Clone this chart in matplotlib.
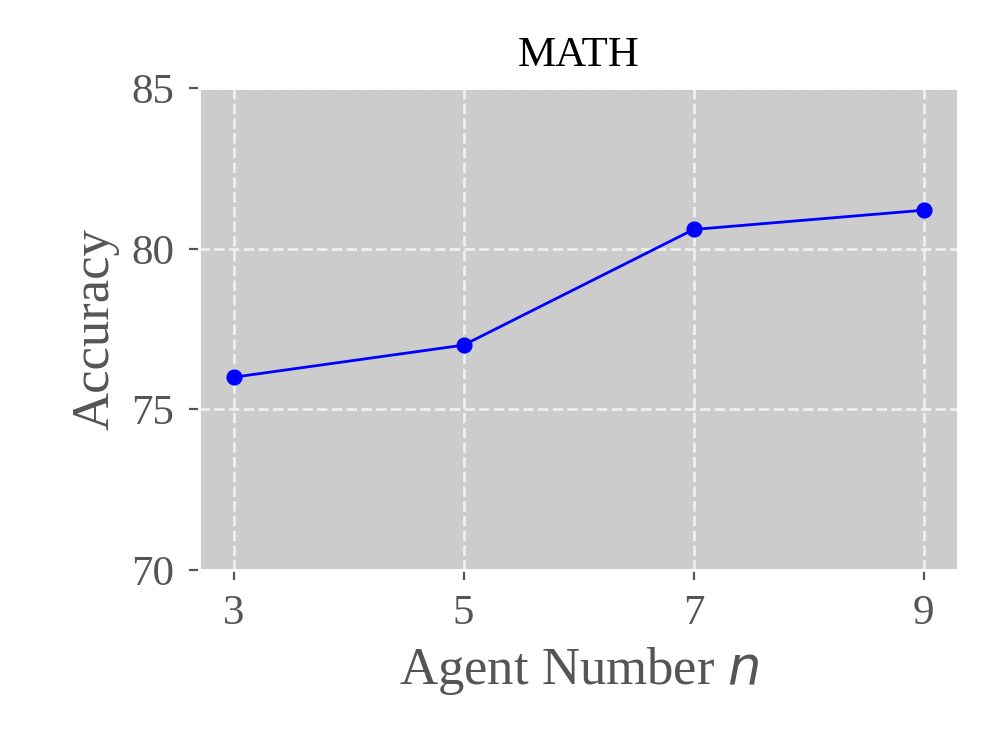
import matplotlib
matplotlib.use("Agg")
import matplotlib.pyplot as plt

agents = [3, 5, 7, 9]
accuracy = [76.0, 77.0, 80.6, 81.2]
yticks = [70, 75, 80, 85]

plt.style.use('ggplot')
plt.rcParams['font.family'] = ['Liberation Serif', 'DejaVu Sans']
plt.rcParams['mathtext.fontset'] = 'dejavusans'

fig = plt.figure(figsize=(4.985, 3.735), dpi=200)
ax = fig.add_axes([0.1996, 0.237, 0.7614, 0.645])
ax.set_facecolor('#cccccc')
ax.plot(agents, accuracy, color='blue', marker='o', markersize=4.8, linewidth=1)
ax.set_xticks(agents)
ax.set_yticks(yticks)
ax.set_ylim(70, 85)
ax.grid(True, color='white', linestyle='--', linewidth=1, alpha=0.7)
ax.tick_params(labelsize=15.5, colors='#555555', labelcolor='#555555', pad=5.5)
ax.set_xlabel('Agent Number $n$', fontsize=19, color='#555555', labelpad=4)
ax.set_ylabel('Accuracy', fontsize=19, color='#555555', labelpad=4)
ax.set_title('MATH', fontsize=15.5, color='black', pad=8)
fig.savefig('out.png', dpi=200)
